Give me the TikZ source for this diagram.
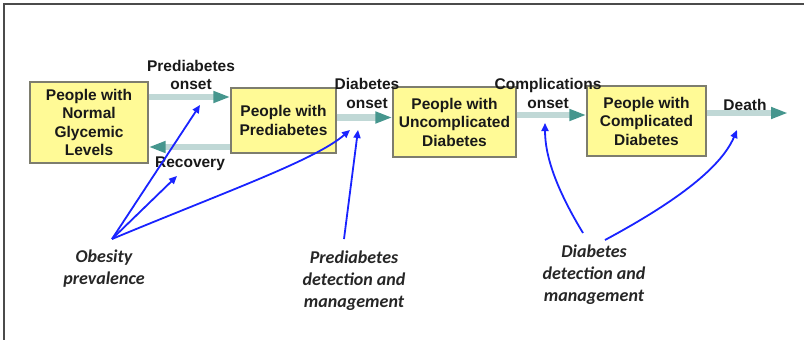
\documentclass[tikz,border=0pt]{standalone}
\usepackage{fontspec}
\setmainfont{Liberation Sans}
\newfontfamily\calib{Carlito}
\usetikzlibrary{arrows.meta,shadows}
\definecolor{boxfill}{RGB}{255,250,150}
\definecolor{boxline}{RGB}{125,125,110}
\definecolor{shaftcol}{RGB}{192,216,214}
\definecolor{headcol}{RGB}{70,150,142}
\definecolor{infl}{RGB}{25,35,255}
\definecolor{frame}{RGB}{75,75,75}
\begin{document}
\begin{tikzpicture}[x=1pt,y=-1pt,
  stock/.style={draw=boxline,line width=1.2pt,fill=boxfill,align=center,
    font=\bfseries\fontsize{15.5}{18.5}\selectfont,inner sep=0pt,text=black!90,
    drop shadow={shadow xshift=1.3pt,shadow yshift=-1.3pt,opacity=0.3}},
  flow/.style={draw=shaftcol,line width=6.5pt,
    -{Triangle[length=17pt,width=11pt,color=headcol]}},
  flowlabel/.style={align=center,font=\bfseries\fontsize{15.5}{18.5}\selectfont,inner sep=0pt,text=black!90},
  driver/.style={align=center,font=\calib\bfseries\itshape\fontsize{18}{22}\selectfont,inner sep=0pt,text=black!85},
  infarrow/.style={draw=infl,line width=1.8pt,-{Triangle[length=8pt,width=7pt]}}]
\useasboundingbox (0,0) rectangle (804,340);
\draw[frame,line width=2.2pt] (804,4) -- (4,4) -- (4,340);

% stocks
\node[stock,minimum width=118pt,minimum height=81pt] (normal) at (89,122.5)
  {People with\\Normal\\Glycemic\\Levels};
\node[stock,minimum width=105pt,minimum height=65pt] (pre) at (283.5,120.5)
  {People with\\Prediabetes};
\node[stock,minimum width=123pt,minimum height=70pt] (unc) at (454.5,122)
  {People with\\Uncomplicated\\Diabetes};
\node[stock,minimum width=119pt,minimum height=70pt] (comp) at (646.5,121)
  {People with\\Complicated\\Diabetes};

% flow levels
\coordinate (yPre) at (0,97);
\coordinate (yRec) at (0,147);
\coordinate (yDia) at (0,117.5);
\coordinate (yCom) at (0,115);
\coordinate (death) at (788,113);

\draw[flow] (normal.east |- yPre) -- (pre.west |- yPre);
\draw[flow] (pre.west |- yRec) -- (normal.east |- yRec);
\draw[flow] (pre.east |- yDia) -- (unc.west |- yDia);
\draw[flow] (unc.east |- yCom) -- (comp.west |- yCom);
\draw[flow] (comp.east |- death) -- (death);

% flow labels
\node[flowlabel] (lpre) at (191,75) {Prediabetes\\onset};
\node[flowlabel] (lrec) at (190,164) {Recovery};
\node[flowlabel] (ldia) at (367,93.5) {Diabetes\\onset};
\node[flowlabel] (lcom) at (548,93.5) {Complications\\onset};
\node[flowlabel] (ldeath) at (745,105) {Death};

% drivers
\node[driver] (obes) at (104,269) {Obesity\\prevalence};
\node[driver] (pdm) at (354,280.5) {Prediabetes\\detection and\\management};
\node[driver] (ddm) at (594,275) {Diabetes\\detection and\\management};

% influence arrow endpoints
\coordinate (o0) at (112,239);
\coordinate (tPre) at (200,105);
\coordinate (tRec) at (177,176);
\coordinate (tDia) at (350,130);
\coordinate (p0) at (344,239);
\coordinate (tDia2) at (358,130);
\coordinate (d0) at (583,233);
\coordinate (tCom) at (545,123);
\coordinate (d1) at (605,240);
\coordinate (tDeath) at (737,130);

\draw[infarrow] (o0) -- (tPre);
\draw[infarrow] (o0) -- (tRec);
\draw[infarrow] (o0) .. controls (230,190) and (315,160) .. (tDia);
\draw[infarrow] (p0) -- (tDia2);
\draw[infarrow] (d0) .. controls (560,195) and (545,160) .. (tCom);
\draw[infarrow] (d1) .. controls (670,205) and (720,170) .. (tDeath);
\end{tikzpicture}
\end{document}
